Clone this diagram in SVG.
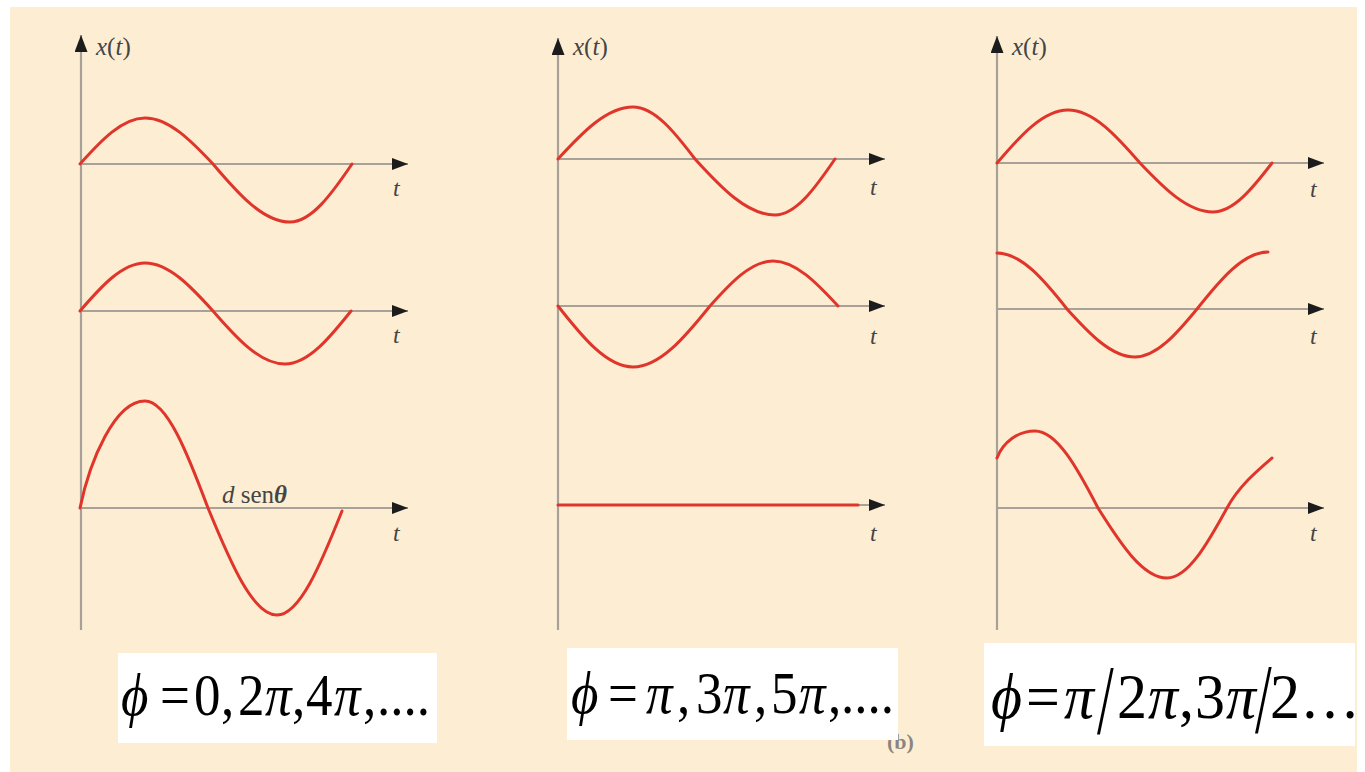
<svg xmlns="http://www.w3.org/2000/svg" width="1365" height="772" viewBox="0 0 1365 772">
<defs>
<marker id="ah" viewBox="0 0 16 12" refX="16" refY="6" markerWidth="16" markerHeight="12" markerUnits="userSpaceOnUse" orient="auto">
<path d="M0,0 L16,6 L0,12 z" fill="#1c1c1c"/>
</marker>
<marker id="ahv" viewBox="0 0 17 13" refX="17" refY="6.5" markerWidth="17" markerHeight="13" markerUnits="userSpaceOnUse" orient="auto">
<path d="M0,0 L17,6.5 L0,13 z" fill="#1c1c1c"/>
</marker>
<style>
.ax{stroke:#a7a19a;stroke-width:2;fill:none}
.axv{stroke:#a7a19a;stroke-width:2.2;fill:none}
.w{stroke:#e0352b;stroke-width:3;fill:none;stroke-linecap:round;stroke-linejoin:round}
.lbl{font-family:"Liberation Serif","Times New Roman",serif;font-size:25px;fill:#454545}
.tl{font-family:"Liberation Serif","Times New Roman",serif;font-size:24px;fill:#454545;font-style:italic}
.it{font-style:italic}
.box{fill:#ffffff}
.eq{font-family:"Liberation Serif","Times New Roman",serif;fill:#000}
</style>
</defs>
<rect x="0" y="0" width="1365" height="772" fill="#ffffff"/>
<rect x="10" y="7" width="1347" height="765" fill="#fdeed3"/>

<g id="connectors">
<line class="axv" x1="81" y1="630" x2="81" y2="35" marker-end="url(#ahv)"/>
<line class="ax" x1="81" y1="164" x2="408" y2="164" marker-end="url(#ah)"/>
<line class="ax" x1="81" y1="311" x2="408" y2="311" marker-end="url(#ah)"/>
<line class="ax" x1="81" y1="508" x2="408" y2="508" marker-end="url(#ah)"/>
<line class="axv" x1="558" y1="630" x2="558" y2="38" marker-end="url(#ahv)"/>
<line class="ax" x1="558" y1="159" x2="885" y2="159" marker-end="url(#ah)"/>
<line class="ax" x1="558" y1="306" x2="885" y2="306" marker-end="url(#ah)"/>
<line class="ax" x1="558" y1="505" x2="885" y2="505" marker-end="url(#ah)"/>
<line class="axv" x1="997" y1="630" x2="997" y2="36" marker-end="url(#ahv)"/>
<line class="ax" x1="997" y1="163" x2="1324" y2="163" marker-end="url(#ah)"/>
<line class="ax" x1="997" y1="309" x2="1324" y2="309" marker-end="url(#ah)"/>
<line class="ax" x1="997" y1="508" x2="1324" y2="508" marker-end="url(#ah)"/>
</g>

<g id="panel1">
<text class="lbl" x="96" y="55"><tspan class="it">x</tspan>(<tspan class="it">t</tspan>)</text>
<path class="w" d="M80,164 C101.2,140.4 122.3,118 145,118 C168.7,118 190.8,140.4 213,164 C238.1,193.7 263.1,222 290,222 C311.6,222 331.8,193.7 352,164"/>
<text class="tl" x="393" y="196">t</text>
<path class="w" d="M80,311 C101.2,286.4 122.3,263 145,263 C168.7,263 190.8,286.4 213,311 C236.5,338.1 259.9,364 285,364 C308,364 329.5,338.1 351,311"/>
<text class="tl" x="393" y="343">t</text>
<path class="w" d="M80,508 C90,460 115,401 145,401 C167,401 187.5,453.2 208,508 C230.5,562.8 252.9,615 277,615 C299.7,615 320.8,564.2 342,511"/>
<text class="lbl" x="222" y="503"><tspan class="it">d</tspan> sen<tspan class="it" font-weight="bold">θ</tspan></text>
<text class="tl" x="393" y="541">t</text>
</g>

<g id="panel2">
<text class="lbl" x="573" y="55"><tspan class="it">x</tspan>(<tspan class="it">t</tspan>)</text>
<path class="w" d="M558,159 C582.5,132.4 606.8,107 633,107 C654.6,107 674.8,132.4 695,159 C721.1,187.7 747.1,215 775,215 C796,215 815.4,187.7 835,159"/>
<text class="tl" x="870" y="195">t</text>
<path class="w" d="M558,306 C582.5,337.2 606.8,367 633,367 C659.9,367 684.9,337.2 710,306 C730.5,283 751,261 773,261 C795.7,261 816.8,283 838,306"/>
<text class="tl" x="870" y="344">t</text>
<line class="w" x1="558" y1="505" x2="858" y2="505"/>
<text class="tl" x="870" y="541">t</text>
</g>

<g id="panel3">
<text class="lbl" x="1012" y="55"><tspan class="it">x</tspan>(<tspan class="it">t</tspan>)</text>
<path class="w" d="M997,163 C1020.1,135.9 1043.2,110 1068,110 C1093.1,110 1116.5,135.9 1140,163 C1163.8,188.1 1187.5,212 1213,212 C1233.6,212 1252.8,188.1 1272,163"/>
<text class="tl" x="1310" y="197">t</text>
<path class="w" d="M997,253 C1021.4,253 1044.2,280.3 1067,309 C1089.2,333.6 1111.3,357 1135,357 C1156.6,357 1176.8,333.6 1197,309 C1220.1,279.8 1243.2,252 1268,252"/>
<text class="tl" x="1310" y="344">t</text>
<path class="w" d="M997,458 C1003,442 1018,431 1035,431 C1057,431 1077.5,468.4 1098,508 C1120.5,543.8 1142.9,578 1167,578 C1188,578 1207.4,543.8 1227,508 C1239,486 1258,470 1272,458"/>
<text class="tl" x="1310" y="541">t</text>
</g>

<text id="faint-b" x="887" y="749" font-family="Liberation Serif, serif" font-size="22" font-weight="bold" fill="#8a8580">(b)</text>

<g id="eq1">
<rect class="box" x="118" y="653" width="319" height="90"/>
<text class="eq" font-size="53" transform="translate(0,715) scale(1,1.1)" y="0"><tspan class="it" x="121">ϕ</tspan><tspan x="160">=</tspan><tspan x="194">0</tspan><tspan x="221">,</tspan><tspan x="238">2</tspan><tspan class="it" x="265">π</tspan><tspan x="292">,</tspan><tspan x="306">4</tspan><tspan class="it" x="334">π</tspan><tspan x="363">,</tspan><tspan x="377">....</tspan></text>
</g>

<g id="eq2">
<rect class="box" x="567" y="648" width="331" height="92"/>
<text class="eq" font-size="53" transform="translate(0,713) scale(1,1.1)" y="0"><tspan class="it" x="571">ϕ</tspan><tspan x="608">=</tspan><tspan class="it" x="646">π</tspan><tspan x="677">,</tspan><tspan x="696">3</tspan><tspan class="it" x="723">π</tspan><tspan x="754">,</tspan><tspan x="771">5</tspan><tspan class="it" x="799">π</tspan><tspan x="828">,</tspan><tspan x="841">....</tspan></text>
</g>

<g id="eq3">
<rect class="box" x="984" y="643" width="371" height="103"/>
<text class="eq" font-size="60" transform="translate(0,718) scale(1,1.06)" y="0"><tspan class="it" x="991">ϕ</tspan><tspan x="1026">=</tspan><tspan class="it" x="1064">π</tspan><tspan x="1117">2</tspan><tspan class="it" x="1148">π</tspan><tspan x="1179">,</tspan><tspan x="1195">3</tspan><tspan class="it" x="1226">π</tspan><tspan x="1270">2</tspan><tspan x="1300">…</tspan></text>
<text class="eq" font-size="100" transform="translate(1097,733) scale(0.6,1)">/</text>
<text class="eq" font-size="100" transform="translate(1255,732) scale(0.6,1)">/</text>
</g>
</svg>
